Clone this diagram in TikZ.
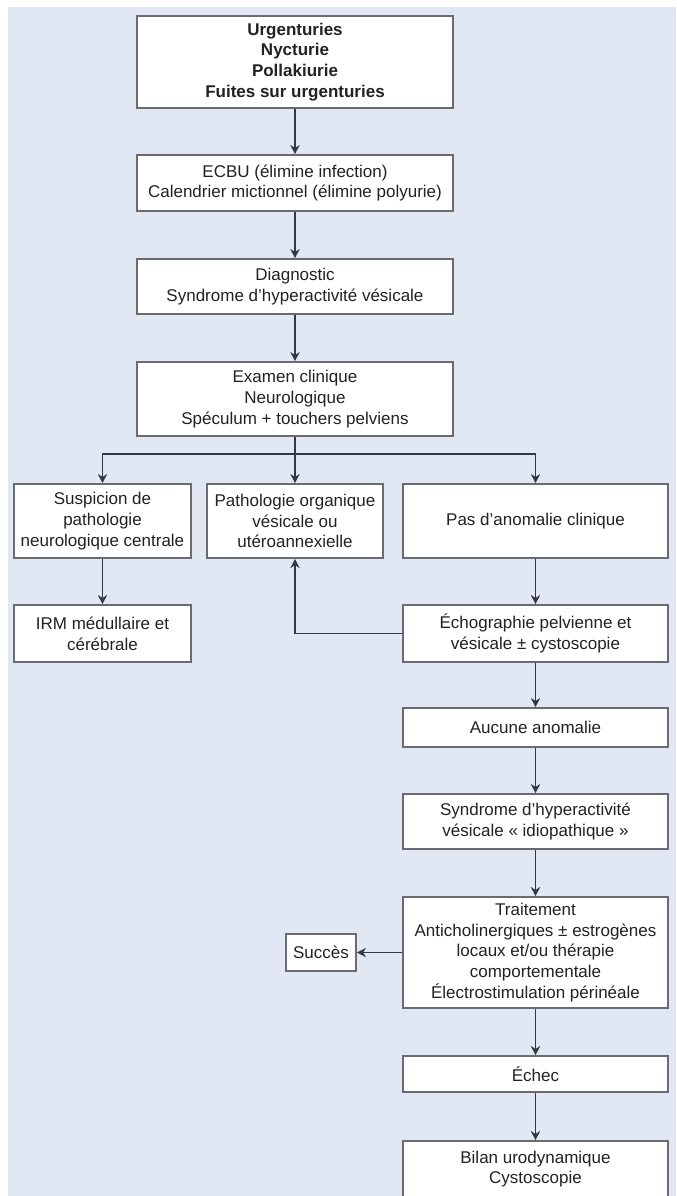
\documentclass[tikz,border=0pt]{standalone}
\usepackage{fontspec}
\setmainfont{Liberation Sans}
\usetikzlibrary{arrows.meta}
\definecolor{bgblue}{RGB}{225,232,243}
\definecolor{boxgray}{RGB}{105,107,113}
\definecolor{linegray}{RGB}{52,56,66}
\definecolor{txt}{RGB}{34,34,36}

\begin{document}
\begin{tikzpicture}[x=0.5pt,y=-0.5pt,
  box/.style={draw=boxgray,line width=0.8pt,fill=white,align=center,inner sep=0pt,
    text=txt,font=\fontsize{8.5}{10.4}\selectfont},
  main/.style={box,minimum width=158pt},
  side/.style={box,minimum width=88.5pt},
  rbox/.style={box,minimum width=132.5pt},
  arr/.style={draw=linegray,line width=0.85pt,-{Stealth[length=4.6pt,width=4.6pt]}}]
  \useasboundingbox (0,0) rectangle (676,1196);
  \fill[bgblue] (8,7) rectangle (676,1196);
  % main column
  \node[main,minimum height=46pt,font=\fontsize{8.5}{10.4}\selectfont\bfseries] (symp) at (295,62)
    {Urgenturies\\Nycturie\\Pollakiurie\\Fuites sur urgenturies};
  \node[main,minimum height=28pt] (ecbu) at (295,183)
    {ECBU (élimine infection)\\Calendrier mictionnel (élimine polyurie)};
  \node[main,minimum height=27.5pt] (diag) at (295,286.5)
    {Diagnostic\\Syndrome d’hyperactivité vésicale};
  \node[main,minimum height=37pt] (exam) at (295,399)
    {Examen clinique\\Neurologique\\Spéculum + touchers pelviens};
  % three branches
  \coordinate (split) at (295,454);
  \node[side,minimum height=37pt] (neuro) at (102.5,521)
    {Suspicion de\\pathologie\\neurologique centrale};
  \node[box,minimum width=88pt,minimum height=37pt] (organ) at (295,521)
    {Pathologie organique\\vésicale ou\\utéroannexielle};
  \node[rbox,minimum height=37pt] (normal) at (535.5,521) {Pas d’anomalie clinique};
  \node[side,minimum height=28.5pt] (irm) at (102.5,633.5) {IRM médullaire et\\cérébrale};
  % right column
  \node[rbox,minimum height=28.5pt] (echo) at (535.5,633.5)
    {Échographie pelvienne et\\vésicale ± cystoscopie};
  \node[rbox,minimum height=19.5pt] (aucune) at (535.5,727.5) {Aucune anomalie};
  \node[rbox,minimum height=27.5pt] (idio) at (535.5,821.5)
    {Syndrome d’hyperactivité\\vésicale «~idiopathique~»};
  \node[rbox,minimum height=55.5pt] (trait) at (535.5,952.5)
    {Traitement\\Anticholinergiques ± estrogènes\\locaux et/ou thérapie\\comportementale\\Électrostimulation périnéale};
  \node[box,minimum width=35pt,minimum height=18.5pt] (succes) at (321,952.5) {Succès};
  \node[rbox,minimum height=18pt] (echec) at (535.5,1074) {Échec};
  \node[rbox,minimum height=28pt] (bilan) at (535.5,1169) {Bilan urodynamique\\Cystoscopie};
  % connectors
  \draw[arr] (symp) -- (ecbu);
  \draw[arr] (ecbu) -- (diag);
  \draw[arr] (diag) -- (exam);
  \draw[arr] (exam) -- (organ);
  \draw[arr] (split) -| (neuro);
  \draw[arr] (split) -| (normal);
  \draw[arr] (neuro) -- (irm);
  \draw[arr] (normal) -- (echo);
  \draw[arr] (echo) -| (organ);
  \draw[arr] (echo) -- (aucune);
  \draw[arr] (aucune) -- (idio);
  \draw[arr] (idio) -- (trait);
  \draw[arr] (trait) -- (succes);
  \draw[arr] (trait) -- (echec);
  \draw[arr] (echec) -- (bilan);
\end{tikzpicture}
\end{document}
